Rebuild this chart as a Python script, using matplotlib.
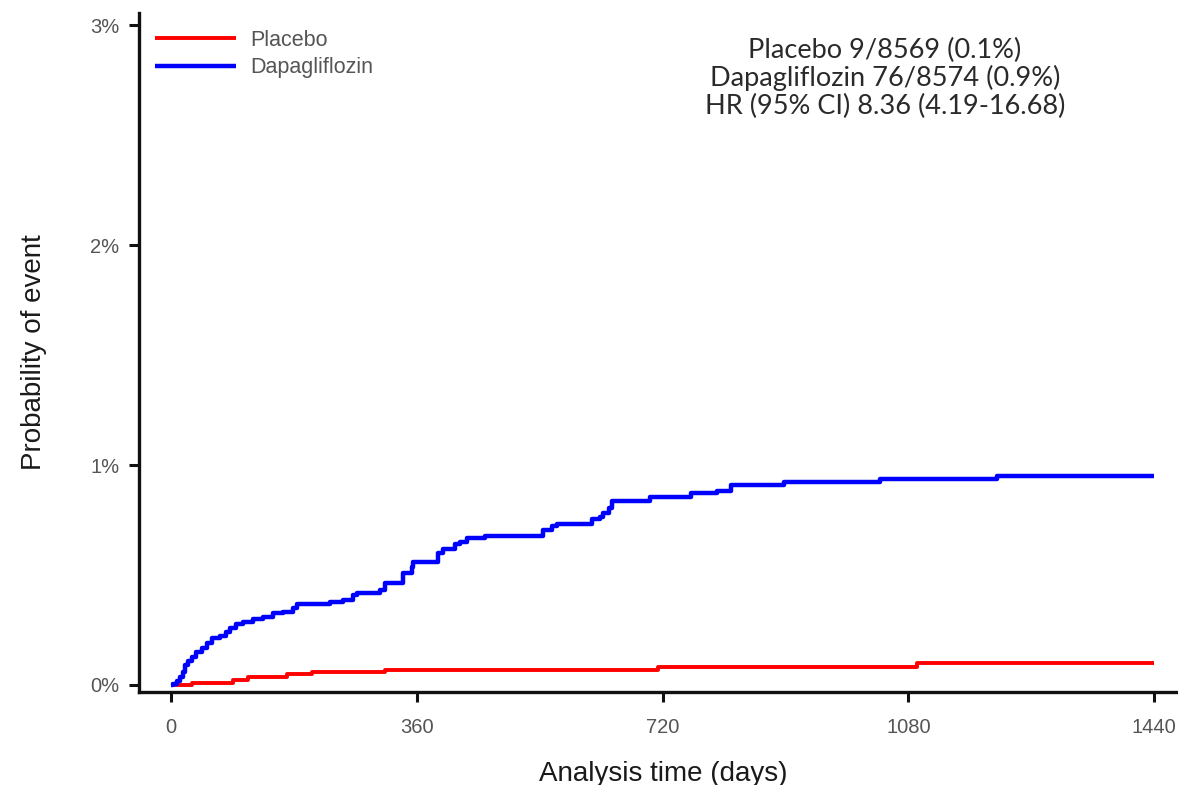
import matplotlib
matplotlib.use("Agg")
import matplotlib.pyplot as plt

# ---- data ----
placebo_days = [0, 30, 91, 113, 170, 206, 314, 713, 1093, 1440]
placebo_prob = [0.0, 0.011, 0.024, 0.036, 0.048, 0.058, 0.070, 0.082, 0.102, 0.102]

dapa_days = [0, 3, 8, 13, 17, 20, 25, 30, 37, 45, 52, 60, 72, 80, 86, 95, 105,
             120, 135, 149, 164, 179, 184, 233, 252, 267, 272, 306, 313, 340,
             353, 355, 391, 399, 416, 423, 433, 460, 545, 558, 565, 616, 628,
             633, 641, 646, 702, 762, 800, 820, 898, 1039, 1210, 1440]
dapa_prob = [0.0, 0.005, 0.020, 0.038, 0.060, 0.091, 0.110, 0.129, 0.148, 0.168,
             0.190, 0.214, 0.223, 0.240, 0.259, 0.275, 0.288,
             0.300, 0.310, 0.327, 0.333, 0.350, 0.368, 0.379, 0.386, 0.410, 0.418,
             0.430, 0.465, 0.510,
             0.538, 0.560, 0.599, 0.620, 0.640, 0.651, 0.667, 0.679, 0.705, 0.723,
             0.732, 0.753, 0.762,
             0.783, 0.803, 0.838, 0.853, 0.871, 0.883, 0.909, 0.921, 0.935, 0.951, 0.951]

x_ticks = [0, 360, 720, 1080, 1440]
y_ticks = [0, 1, 2, 3]
y_tick_labels = ["0%", "1%", "2%", "3%"]

series_labels = ["Placebo", "Dapagliflozin"]
annotation_lines = ["Placebo 9/8569 (0.1%)",
                    "Dapagliflozin 76/8574 (0.9%)",
                    "HR (95% CI) 8.36 (4.19-16.68)"]

plt.rcParams["font.family"] = ["Liberation Sans", "DejaVu Sans"]

W, H = 1178, 785
fig = plt.figure(figsize=(W / 100, H / 100), dpi=100)
ax = fig.add_axes([139 / W, 1 - 692 / H, (W - 139) / W, (692 - 13) / H])

ax.step(placebo_days, placebo_prob, where="post", color="#ff0000", lw=2.8,
        label=series_labels[0], solid_capstyle="butt")
ax.step(dapa_days, dapa_prob, where="post", color="#0000ff", lw=3.2,
        label=series_labels[1], solid_capstyle="butt")

ax.set_xlim(-47, 1475)
ax.set_ylim(-0.032, 3.055)

for s in ["top", "right"]:
    ax.spines[s].set_visible(False)
for s in ["left", "bottom"]:
    ax.spines[s].set_linewidth(2.4)
    ax.spines[s].set_color("#111111")

ax.set_xticks(x_ticks)
ax.set_xticklabels([str(v) for v in x_ticks])
ax.set_yticks(y_ticks)
ax.set_yticklabels(y_tick_labels)
ax.tick_params(axis="both", length=7, width=2.2, color="#111111",
               labelsize=14.5, labelcolor="#555555")
ax.tick_params(axis="x", pad=12)
ax.tick_params(axis="y", pad=7)

ax.set_xlabel("Analysis time (days)", fontsize=20, color="#1a1a1a")
ax.xaxis.set_label_coords(0.505, -0.1015)
ax.set_ylabel("Probability of event", fontsize=20, color="#1a1a1a")
ax.yaxis.set_label_coords(-0.089, 0.5)

leg = ax.legend(loc="upper left", bbox_to_anchor=(7 / 1039, 0.988), frameon=False,
                fontsize=15.5, handlelength=3.77, handletextpad=0.65,
                labelspacing=0.3, borderaxespad=0.0)
for t in leg.get_texts():
    t.set_color("#555555")

y0 = 50
for i, line in enumerate(annotation_lines):
    fig.text(885 / W, 1 - (y0 + 28 * i) / H, line, ha="center", va="center",
             fontsize=19.5, color="#2a2a2a", family=["Lato", "DejaVu Sans"])

fig.savefig("out.png", dpi=100)
